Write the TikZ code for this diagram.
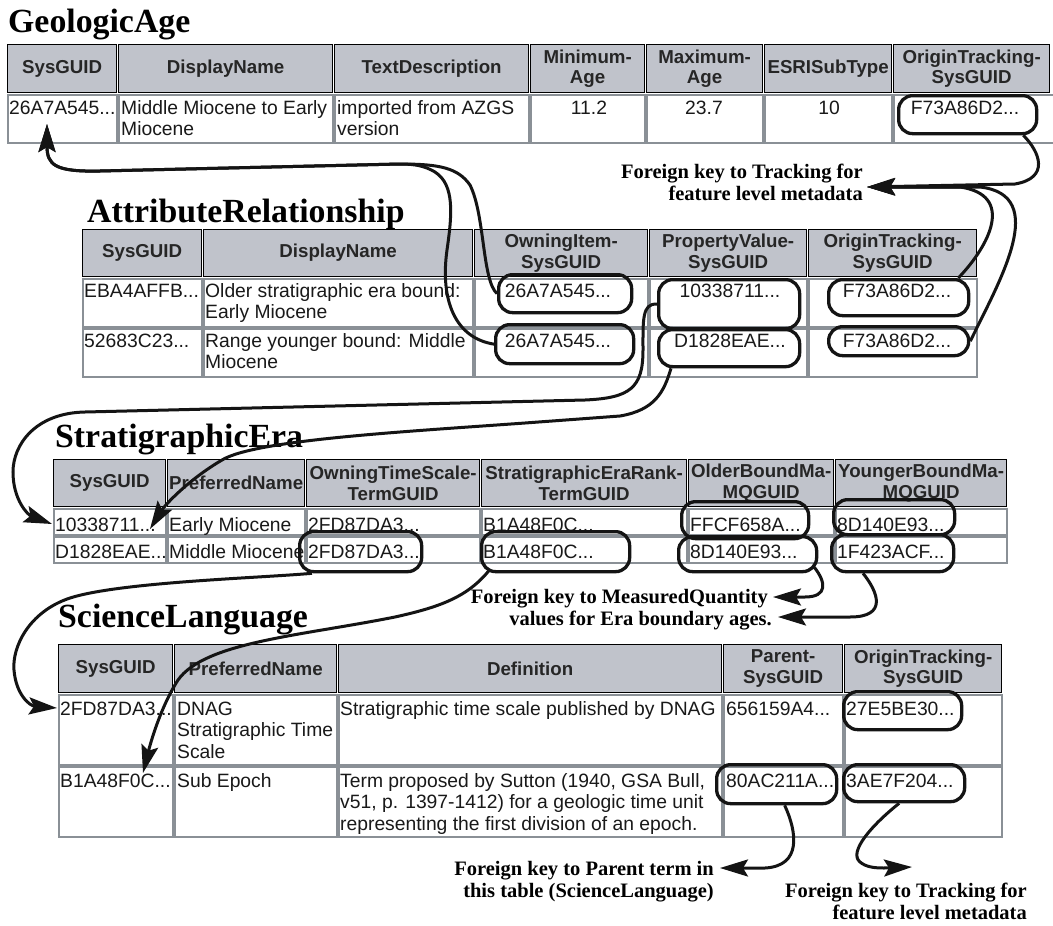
\documentclass[tikz,border=0pt]{standalone}
\usepackage{fontspec}
\setmainfont{Liberation Serif}
\newfontfamily\arialf{Liberation Sans}
\usetikzlibrary{arrows.meta}
\definecolor{hdrgray}{RGB}{192,195,203}
\definecolor{cellgray}{RGB}{138,144,150}
\definecolor{ink}{RGB}{20,20,20}
% header cell: name x1 x2 y1 y2 text
\newcommand\hcl[6]{\pgfmathsetmacro\cw{#3-#2-2}\pgfmathsetmacro\ch{#5-#4-2}%
  \node[hcell,minimum width=\cw pt,minimum height=\ch pt,anchor=north west] (#1) at (#2+1,#4+1) {#6};}
% data cell: name x1 x2 y1 y2
\newcommand\dcl[5]{\pgfmathsetmacro\cw{#3-#2-2}\pgfmathsetmacro\ch{#5-#4-2}%
  \node[dcell,minimum width=\cw pt,minimum height=\ch pt,anchor=north west] (#1) at (#2+1,#4+1) {};}
% text left: name x baseline text
\newcommand\txl[4]{\node[dtext,anchor=north west] (#1) at (#2,#3-15.2) {\strut #4};}
\newcommand\txc[4]{\node[dtext,align=center,anchor=north] (#1) at (#2,#3-15.2) {\strut #4};}
% pill: name x1 x2 y1 y2
\newcommand\pil[5]{\pgfmathsetmacro\cw{#3-#2}\pgfmathsetmacro\ch{#5-#4}%
  \node[pillbox,minimum width=\cw pt,minimum height=\ch pt,anchor=north west] (#1) at (#2,#4) {};}
\begin{document}
\begin{tikzpicture}[x=1pt,y=-1pt,
  hcell/.style={draw=black,line width=1.3pt,fill=hdrgray,inner sep=0pt,align=center,
    font=\arialf\bfseries\fontsize{18.7}{20.5}\selectfont,text=black!85},
  dcell/.style={draw=cellgray,line width=1.6pt,fill=white,inner sep=0pt},
  dtext/.style={inner sep=0pt,align=left,font=\arialf\fontsize{19.3}{21.7}\selectfont,text=black!90},
  pillbox/.style={draw=ink,line width=3.3pt,rounded corners=14pt,inner sep=0pt},
  ttl/.style={inner sep=0pt,font=\bfseries\fontsize{33.8}{36}\selectfont},
  ann/.style={inner sep=0pt,font=\bfseries\fontsize{20.5}{24}\selectfont},
  fk/.style={draw=ink,line width=3pt,-{Stealth[length=28pt,width=17pt,inset=5pt]}}]
\clip (0,0) rectangle (1053,926);
\fill[white] (0,0) rectangle (1053,926);

% ---------------- GeologicAge ----------------
\node[ttl,anchor=base west] (t-ga) at (8,32) {GeologicAge};
\hcl{ga-h1}{6}{117}{43}{93}{SysGUID}
\hcl{ga-h2}{117}{333}{43}{93}{DisplayName}
\hcl{ga-h3}{333}{529}{43}{93}{TextDescription}
\hcl{ga-h4}{529}{645}{43}{93}{Minimum-\\Age}
\hcl{ga-h5}{645}{763}{43}{93}{Maximum-\\Age}
\hcl{ga-h6}{763}{892}{43}{93}{ESRISubType}
\hcl{ga-h7}{892}{1050}{43}{93}{OriginTracking-\\SysGUID}
\dcl{ga-c1}{6}{117}{93}{143}
\dcl{ga-c2}{117}{333}{93}{143}
\dcl{ga-c3}{333}{529}{93}{143}
\dcl{ga-c4}{529}{645}{93}{143}
\dcl{ga-c5}{645}{763}{93}{143}
\dcl{ga-c6}{763}{892}{93}{143}
\dcl{ga-c7}{892}{1062}{93}{143}
\txl{ga-t1}{9}{114}{26A7A545...}
\txl{ga-t2}{121}{114}{Middle Miocene to Early\\Miocene}
\txl{ga-t3}{337}{114}{imported from AZGS\\version}
\txc{ga-t4}{589}{114}{11.2}
\txc{ga-t5}{704}{114}{23.7}
\txc{ga-t6}{829}{114}{10}
\txc{ga-t7}{965}{114}{F73A86D2...}
\pil{ga-p7}{897}{1035}{94}{132}

% ---------------- AttributeRelationship ----------------
\node[ttl,anchor=base west] (t-ar) at (87,222) {AttributeRelationship};
\hcl{ar-h1}{81}{202}{228}{277}{SysGUID}
\hcl{ar-h2}{202}{473}{228}{277}{DisplayName}
\hcl{ar-h3}{473}{648}{228}{277}{OwningItem-\\SysGUID}
\hcl{ar-h4}{648}{807}{228}{277}{PropertyValue-\\SysGUID}
\hcl{ar-h5}{807}{977}{228}{277}{OriginTracking-\\SysGUID}
\dcl{ar-c11}{81}{202}{277}{327}
\dcl{ar-c12}{202}{473}{277}{327}
\dcl{ar-c13}{473}{648}{277}{327}
\dcl{ar-c14}{648}{807}{277}{327}
\dcl{ar-c15}{807}{977}{277}{327}
\dcl{ar-c21}{81}{202}{327}{377}
\dcl{ar-c22}{202}{473}{327}{377}
\dcl{ar-c23}{473}{648}{327}{377}
\dcl{ar-c24}{648}{807}{327}{377}
\dcl{ar-c25}{807}{977}{327}{377}
\txl{ar-t11}{84}{297}{EBA4AFFB...}
\txl{ar-t12}{205}{297}{Older stratigraphic era bound:\\Early Miocene}
\txc{ar-t13}{558}{297}{26A7A545...}
\txc{ar-t14}{730}{297}{10338711...}
\txc{ar-t15}{897}{297}{F73A86D2...}
\txl{ar-t21}{84}{347}{52683C23...}
\txl{ar-t22}{205}{347}{Range younger bound: Middle\\Miocene}
\txc{ar-t23}{558}{347}{26A7A545...}
\txc{ar-t24}{730}{347}{D1828EAE...}
\txc{ar-t25}{897}{347}{F73A86D2...}
\pil{ar-p13}{497}{630}{273}{311}
\pil{ar-p23}{494}{632}{323}{362}
\pil{ar-p14}{657}{798}{278}{327}
\pil{ar-p24}{657}{798}{328}{365}
\pil{ar-p15}{827}{967}{278}{314}
\pil{ar-p25}{827}{967}{325}{354}

% ---------------- StratigraphicEra ----------------
\node[ttl,anchor=base west] (t-se) at (55,447) {StratigraphicEra};
\hcl{se-h1}{52}{166}{458}{507}{SysGUID}
\hcl{se-h2}{166}{305}{458}{507}{PreferredName}
\hcl{se-h3}{305}{480}{458}{507}{OwningTimeScale-\\TermGUID}
\hcl{se-h4}{480}{687}{458}{507}{StratigraphicEraRank-\\TermGUID}
\hcl{se-h5}{687}{834}{458}{507}{OlderBoundMa-\\MQGUID}
\hcl{se-h6}{834}{1007}{458}{507}{YoungerBoundMa-\\MQGUID}
\dcl{se-c11}{52}{166}{507}{535}
\dcl{se-c12}{166}{305}{507}{535}
\dcl{se-c13}{305}{480}{507}{535}
\dcl{se-c14}{480}{687}{507}{535}
\dcl{se-c15}{687}{834}{507}{535}
\dcl{se-c16}{834}{1007}{507}{535}
\dcl{se-c21}{52}{166}{535}{563}
\dcl{se-c22}{166}{305}{535}{563}
\dcl{se-c23}{305}{480}{535}{563}
\dcl{se-c24}{480}{687}{535}{563}
\dcl{se-c25}{687}{834}{535}{563}
\dcl{se-c26}{834}{1007}{535}{563}
\txl{se-t11}{55}{531}{10338711...}
\txl{se-t12}{169}{531}{Early Miocene}
\txl{se-t13}{308}{531}{2FD87DA3...}
\txl{se-t14}{483}{531}{B1A48F0C...}
\txl{se-t15}{690}{531}{FFCF658A...}
\txl{se-t16}{837}{531}{8D140E93...}
\txl{se-t21}{55}{558}{D1828EAE...}
\txl{se-t22}{169}{558}{Middle Miocene}
\txl{se-t23}{308}{558}{2FD87DA3...}
\txl{se-t24}{483}{558}{B1A48F0C...}
\txl{se-t25}{690}{558}{8D140E93...}
\txl{se-t26}{837}{558}{1F423ACF...}
\pil{se-p23}{298}{420}{530}{570}
\pil{se-p24}{480}{628}{530}{570}
\pil{se-p15}{680}{807}{500}{537}
\pil{se-p25}{677}{815}{535}{570}
\pil{se-p16}{832}{953}{498}{533}
\pil{se-p26}{830}{952}{533}{570}

% ---------------- ScienceLanguage ----------------
\node[ttl,anchor=base west] (t-sl) at (58,627) {ScienceLanguage};
\hcl{sl-h1}{57}{173}{643}{693}{SysGUID}
\hcl{sl-h2}{173}{337}{643}{693}{PreferredName}
\hcl{sl-h3}{337}{722}{643}{693}{Definition}
\hcl{sl-h4}{722}{843}{643}{693}{Parent-\\SysGUID}
\hcl{sl-h5}{843}{1002}{643}{693}{OriginTracking-\\SysGUID}
\dcl{sl-c11}{57}{173}{693}{765}
\dcl{sl-c12}{173}{337}{693}{765}
\dcl{sl-c13}{337}{722}{693}{765}
\dcl{sl-c14}{722}{843}{693}{765}
\dcl{sl-c15}{843}{1002}{693}{765}
\dcl{sl-c21}{57}{173}{765}{837}
\dcl{sl-c22}{173}{337}{765}{837}
\dcl{sl-c23}{337}{722}{765}{837}
\dcl{sl-c24}{722}{843}{765}{837}
\dcl{sl-c25}{843}{1002}{765}{837}
\txl{sl-t11}{60}{715}{2FD87DA3...}
\txl{sl-t12}{177}{715}{DNAG\\Stratigraphic Time\\Scale}
\txl{sl-t13}{340}{715}{Stratigraphic time scale published by DNAG}
\txl{sl-t14}{726}{715}{656159A4...}
\txl{sl-t15}{846}{715}{27E5BE30...}
\txl{sl-t21}{60}{787}{B1A48F0C...}
\txl{sl-t22}{177}{787}{Sub Epoch}
\txl{sl-t23}{340}{787}{Term proposed by Sutton (1940, GSA Bull,\\v51, p. 1397-1412) for a geologic time unit\\representing the first division of an epoch.}
\txl{sl-t24}{726}{787}{80AC211A...}
\txl{sl-t25}{846}{787}{3AE7F204...}
\pil{sl-p15}{842}{960}{690}{728}
\pil{sl-p24}{715}{835}{763}{802}
\pil{sl-p25}{842}{963}{763}{800}

% ---------------- annotations ----------------
\node[ann,anchor=base east] (a1a) at (863,178) {Foreign key to Tracking for};
\node[ann,anchor=base east] (a1b) at (863,200) {feature level metadata};
\node[ann,anchor=base east] (a2a) at (768,603) {Foreign key to MeasuredQuantity};
\node[ann,anchor=base east] (a2b) at (772,625) {values for Era boundary ages.};
\node[ann,anchor=base east] (a3a) at (714,875) {Foreign key to Parent term in};
\node[ann,anchor=base east] (a3b) at (714,897) {this table (ScienceLanguage)};
\node[ann,anchor=base east] (a4a) at (1027,897) {Foreign key to Tracking for};
\node[ann,anchor=base east] (a4b) at (1027,919) {feature level metadata};

% arrow tips
\coordinate (ga-tip) at (867,187);
\coordinate (ga-tip2) at (47,124);
\coordinate (se-tip1) at (52,524);
\coordinate (se-tip2) at (150,529);
\coordinate (sl-tip1) at (57,708);
\coordinate (sl-tip2) at (143,773);
\coordinate (se-tipA) at (773,597);
\coordinate (se-tipB) at (778,617);
\coordinate (sl-tipC) at (720,868);
\coordinate (sl-tipD) at (912,867);

% ---------------- connectors ----------------
\draw[fk] ([xshift=-15pt]ga-p7.south east) .. controls (1040,152) and (1050,178) .. (1015,184) -- (ga-tip);
\draw[fk] ([xshift=-12pt]ar-p15.north east) .. controls (990,245) and (1015,195) .. (960,187) -- (ga-tip);
\draw[fk] (ar-p25.east) .. controls (1000,280) and (1050,195) .. (980,187) -- (ga-tip);

\draw[fk] (ar-p13.west) .. controls (482,280) and (485,215) .. (470,185) .. controls (458,168) and (440,164) .. (400,164) -- (100,171) .. controls (55,172) and (47,165) .. (ga-tip2);
\draw[fk] (ar-p23.west) .. controls (455,338) and (440,300) .. (447,250) .. controls (452,215) and (455,185) .. (435,172) .. controls (425,166) and (415,164) .. (400,164) -- (100,171) .. controls (55,172) and (47,165) .. (ga-tip2);

\draw[fk] (ar-p14.west) .. controls (642,303) and (643,320) .. (643,350) .. controls (643,388) and (630,398) .. (585,400) -- (85,412) .. controls (35,413) and (13,445) .. (13,472) .. controls (13,500) and (28,515) .. (se-tip1);
\draw[fk] ([xshift=14pt]ar-p24.south west) .. controls (664,392) and (655,410) .. (620,416) -- (525,423) .. controls (400,432) and (255,440) .. (222,460) .. controls (188,480) and (165,505) .. (se-tip2);

\draw[fk] ([xshift=14pt]se-p23.south west) .. controls (260,578) and (120,582) .. (70,598) .. controls (28,612) and (12,648) .. (14,670) .. controls (16,695) and (30,706) .. (sl-tip1);
\draw[fk] ([xshift=10pt,yshift=4pt]se-p24.south west) .. controls (468,597) and (440,607) .. (395,617) .. controls (300,636) and (205,642) .. (178,680) .. controls (160,708) and (150,745) .. (sl-tip2);

\draw[fk] ([xshift=-4pt,yshift=6pt]se-p25.south east) .. controls (826,582) and (828,597) .. (805,597) -- (se-tipA);
\draw[fk] ([xshift=33pt]se-p26.south west) .. controls (878,592) and (888,617) .. (850,617) -- (se-tipB);

\draw[fk] ([xshift=8pt]sl-p24.south) .. controls (797,832) and (802,866) .. (765,868) -- (sl-tipC);
\draw[fk] ([xshift=-5pt]sl-p25.south) .. controls (872,825) and (848,852) .. (860,862) .. controls (866,867) and (874,868) .. (884,868) -- (sl-tipD);
\end{tikzpicture}
\end{document}
